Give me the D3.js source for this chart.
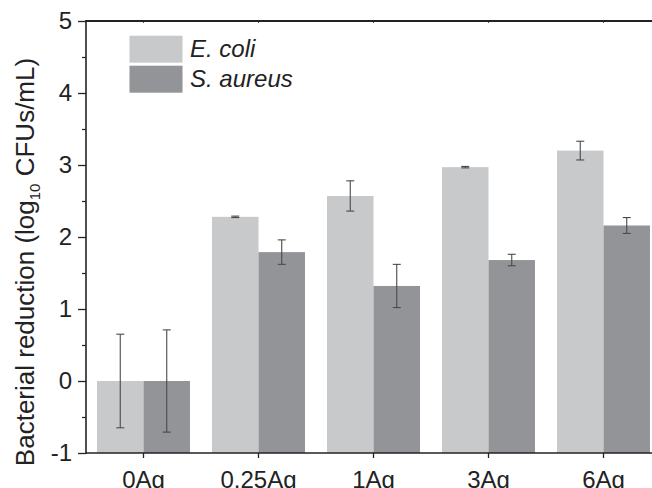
<!DOCTYPE html>
<html><head><meta charset="utf-8">
<script src="https://cdn.jsdelivr.net/npm/d3@7"></script>
<style>body{margin:0;background:#fff}svg{display:block}text{font-family:"Liberation Sans",Arial,sans-serif;fill:#222}</style>
</head><body>
<script>
const categories = ["0Ag","0.25Ag","1Ag","3Ag","6Ag"];
const seriesNames = ["E. coli","S. aureus"];
const ecoli = [0, 2.28, 2.57, 2.97, 3.20];
const ecoliErr = [0.65, 0.01, 0.21, 0.01, 0.13];
const saureus = [0, 1.79, 1.32, 1.68, 2.16];
const saureusErr = [0.71, 0.17, 0.30, 0.08, 0.11];
const yTicks = [-1,0,1,2,3,4,5];
const yMinor = [-0.5,0.5,1.5,2.5,3.5,4.5];
const colors = ["#c8c9cb","#939497"];

const W=652,H=488;
const svg=d3.select("body").append("svg").attr("width",W).attr("height",H);
const x=d3.scaleBand().domain(categories).range([86,661]).padding(0);
const xs=d3.scaleBand().domain(seriesNames).range([0,x.bandwidth()]).paddingInner(0).paddingOuter(0.237);
const y=d3.scaleLinear().domain([-1,5]).range([453,21]);

const data=[ecoli,saureus];
const errs=[ecoliErr,saureusErr];
seriesNames.forEach((s,si)=>{
  const g=svg.append("g");
  g.selectAll("rect").data(categories).join("rect")
    .attr("x",c=>x(c)+xs(s)).attr("width",xs.bandwidth())
    .attr("y",(c,i)=>y(data[si][i])).attr("height",(c,i)=>y(-1)-y(data[si][i]))
    .attr("fill",colors[si]);
});
seriesNames.forEach((s,si)=>{
  const g=svg.append("g").attr("stroke","#4a4a4a").attr("stroke-width",1.1);
  categories.forEach((c,i)=>{
    const cx=x(c)+xs(s)+xs.bandwidth()/2;
    const v=data[si][i], e=errs[si][i];
    g.append("line").attr("x1",cx).attr("x2",cx).attr("y1",y(v+e)).attr("y2",y(v-e));
    g.append("line").attr("x1",cx-4).attr("x2",cx+4).attr("y1",y(v+e)).attr("y2",y(v+e));
    g.append("line").attr("x1",cx-4).attr("x2",cx+4).attr("y1",y(v-e)).attr("y2",y(v-e));
  });
});

// axes
const yAx=svg.append("g").attr("transform","translate(86,0)")
  .call(d3.axisLeft(y).tickValues(yTicks).tickSize(8).tickPadding(6).tickFormat(d=>String(d)));
yAx.select(".domain").remove();
yAx.selectAll("line").attr("stroke","#222").attr("stroke-width",1.3);
yAx.selectAll("text").style("font-size","24px").attr("fill","#222").attr("dy","0.3em");
const yMin=svg.append("g").attr("transform","translate(86,0)")
  .call(d3.axisLeft(y).tickValues(yMinor).tickSize(4).tickFormat(""));
yMin.select(".domain").remove();
yMin.selectAll("line").attr("stroke","#222").attr("stroke-width",1.2);

const xAx=svg.append("g").attr("transform","translate(0,453)")
  .call(d3.axisBottom(x).tickSize(5).tickPadding(13));
xAx.select(".domain").remove();
xAx.selectAll("line").attr("stroke","#222").attr("stroke-width",1.3);
xAx.selectAll("text").style("font-size","24px").attr("fill","#222").attr("dy","0.71em");

const xTop=svg.append("g").attr("transform","translate(0,21)")
  .call(d3.axisBottom(x).tickSize(2).tickFormat(""));
xTop.select(".domain").remove();
xTop.selectAll("line").attr("stroke","#555");

svg.append("line").attr("x1",86).attr("x2",661).attr("y1",453).attr("y2",453).attr("stroke","#222").attr("stroke-width",1.6);
svg.append("line").attr("x1",86).attr("x2",661).attr("y1",21).attr("y2",21).attr("stroke","#222").attr("stroke-width",2);
svg.append("line").attr("x1",86).attr("x2",86).attr("y1",20).attr("y2",454).attr("stroke","#222").attr("stroke-width",1.6);

// y title
const t=svg.append("text").attr("transform","translate(33.5,262) rotate(-90)")
  .attr("text-anchor","middle").style("font-size","26px");
t.append("tspan").text("Bacterial reduction (log");
t.append("tspan").text("10").style("font-size","15px").attr("dy","6");
t.append("tspan").text(" CFUs/mL)").attr("dy","-6");

// legend
const lg=svg.append("g");
seriesNames.forEach((s,i)=>{
  lg.append("rect").attr("x",129.5).attr("y",35.7+i*30).attr("width",53).attr("height",27).attr("fill",colors[i]);
  lg.append("text").attr("x",190).attr("y",57+i*30).text(s).style("font-size","24px").style("font-style","italic");
});
</script>
</body></html>
